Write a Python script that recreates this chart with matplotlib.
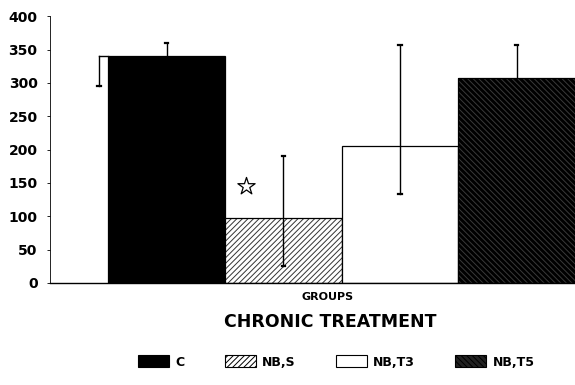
import matplotlib
matplotlib.use("Agg")
import matplotlib.pyplot as plt
from matplotlib.patches import Patch

groups = ["C", "NB,S", "NB,T3", "NB,T5"]
means = [340, 97, 205, 308]
err_low = [295, 25, 133, 308]
err_high = [360, 190, 357, 357]
yticks = [0, 50, 100, 150, 200, 250, 300, 350, 400]

plt.rcParams["font.family"] = ["DejaVu Sans"]
plt.rcParams["hatch.linewidth"] = 0.7

fig = plt.figure(figsize=(5.75, 3.85), dpi=100)
ax = fig.add_axes([0.087, 0.265, 0.913, 0.693])

x = list(range(len(groups)))
faces = ["black", "white", "white", "black"]
hatches = [None, "//////", None, "\\\\\\\\\\\\"]
hcolors = ["black", "#333333", "black", "#3a3a3a"]

for xi, m, fc, h, hc in zip(x, means, faces, hatches, hcolors):
    ax.bar(xi, m, width=1.0, color=fc, edgecolor=hc, hatch=h, linewidth=0)
    ax.bar(xi, m, width=1.0, color="none", edgecolor="black", linewidth=0.9)

# error bars
for i, (m, lo, hi) in enumerate(zip(means, err_low, err_high)):
    if i == 0:
        # upper whisker at bar centre, lower whisker bracketed at left edge
        ax.plot([0, 0], [m, hi], color="black", lw=1.0)
        ax.plot([-0.015, 0.015], [hi, hi], color="black", lw=1.6)
        xl = -0.58
        ax.plot([xl, -0.5], [m, m], color="black", lw=1.0)
        ax.plot([xl, xl], [m, lo], color="black", lw=1.0)
        ax.plot([xl - 0.015, xl + 0.015], [lo, lo], color="black", lw=1.6)
    else:
        ax.plot([i, i], [lo, hi], color="black", lw=1.0)
        for v in (lo, hi):
            if v != m:
                ax.plot([i - 0.015, i + 0.015], [v, v], color="black", lw=1.6)

# significance marker
ax.scatter([0.68], [146], marker="*", s=170, facecolor="white",
           edgecolor="black", linewidth=0.9, zorder=5)

ax.set_xlim(-1.0, 3.5)
ax.set_ylim(0, 400)
ax.set_yticks(yticks)
ax.set_yticklabels([str(t) for t in yticks], fontsize=10, fontweight="bold")
ax.tick_params(axis="y", length=2, width=0.6, pad=7)
ax.set_xticks([])
for s in ("top", "right"):
    ax.spines[s].set_visible(False)
ax.spines["left"].set_linewidth(0.6)
ax.spines["left"].set_linestyle((0, (6, 1, 1, 1)))
ax.spines["bottom"].set_linewidth(1.0)

fig.text(0.57, 0.228, "GROUPS", ha="center", va="center",
         fontsize=8, fontweight="bold")
fig.text(0.575, 0.163, "CHRONIC TREATMENT", ha="center", va="center",
         fontsize=12.5, fontweight="semibold")

handles = [Patch(facecolor=fc, edgecolor="black", hatch=h, linewidth=0.8)
           for fc, h in zip(faces, hatches)]
handles[3] = Patch(facecolor="#222222", edgecolor="black",
                   hatch="\\\\\\\\\\\\", linewidth=0.8)
labels = ["C", "NB,S", "NB,T3", "NB,T5"]
fig.legend(handles, labels, loc="center", bbox_to_anchor=(0.585, 0.06),
           ncol=4, frameon=False,
           prop={"weight": "bold", "size": 9},
           handlelength=2.5, handleheight=1.1, columnspacing=3.2,
           handletextpad=0.5)

fig.savefig("out.png", dpi=100)
